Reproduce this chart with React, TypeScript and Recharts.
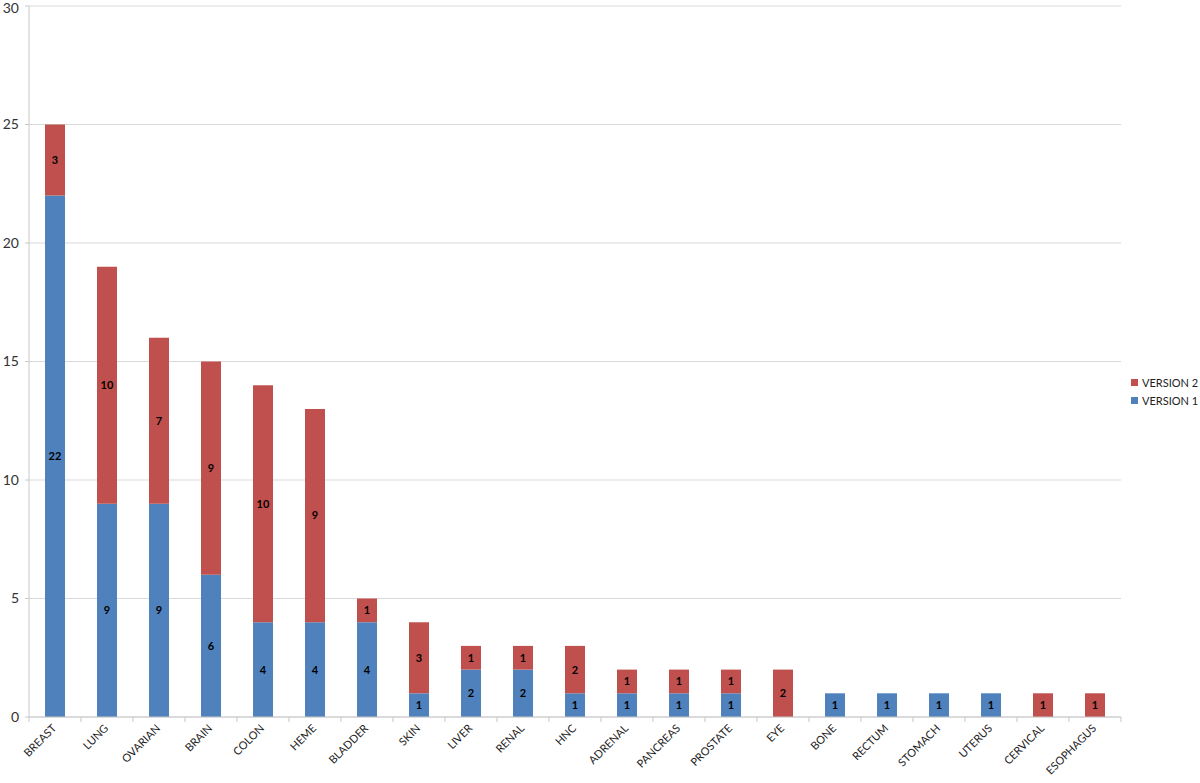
import { BarChart, Bar, XAxis, YAxis, CartesianGrid, Legend, LabelList } from "recharts";

const categories = [
  "BREAST", "LUNG", "OVARIAN", "BRAIN", "COLON", "HEME", "BLADDER", "SKIN", "LIVER", "RENAL", "HNC",
  "ADRENAL", "PANCREAS", "PROSTATE", "EYE", "BONE", "RECTUM", "STOMACH", "UTERUS", "CERVICAL", "ESOPHAGUS",
];
const version1 = [22, 9, 9, 6, 4, 4, 4, 1, 2, 2, 1, 1, 1, 1, 0, 1, 1, 1, 1, 0, 0];
const version2 = [3, 10, 7, 9, 10, 9, 1, 3, 1, 1, 2, 1, 1, 1, 2, 0, 0, 0, 0, 1, 1];
const yTicks = [0, 5, 10, 15, 20, 25, 30];

const data = categories.map((name, i) => ({ name, v1: version1[i], v2: version2[i] }));

const FONT = "Lato, 'Open Sans', sans-serif";
const HALF_BAND = 26;

const XTick = (props: any) => {
  const { x, y, payload, index } = props;
  const axisY = y - 8;
  return (
    <g>
      <line x1={x - HALF_BAND} x2={x - HALF_BAND} y1={axisY} y2={axisY + 5} stroke="#c8c8c8" />
      {index === categories.length - 1 && (
        <line x1={x + HALF_BAND} x2={x + HALF_BAND} y1={axisY} y2={axisY + 5} stroke="#c8c8c8" />
      )}
      <text
        x={x + 2}
        y={y + 4}
        textAnchor="end"
        fontSize={11}
        fill="#222"
        fontFamily={FONT}
        transform={`rotate(-45, ${x + 2}, ${y + 4})`}
      >
        {payload.value}
      </text>
    </g>
  );
};

// legend lists VERSION 2 above VERSION 1, like the stack order
const LegendBox = (props: any) => {
  const items = [...(props.payload || [])].reverse();
  return (
    <div style={{ fontFamily: FONT, fontSize: 11, color: "#222", paddingLeft: 10, whiteSpace: "nowrap" }}>
      {items.map((it: any) => (
        <div key={it.value} style={{ display: "flex", alignItems: "center", height: 18 }}>
          <span
            style={{ width: 7, height: 7, flexShrink: 0, background: it.color, marginRight: 4, display: "inline-block" }}
          />
          {it.value}
        </div>
      ))}
    </div>
  );
};

const hideZero = (v: any) => (v ? v : "");

export default function App() {
  return (
    <div style={{ position: "absolute", left: 0, top: 0, background: "#fff" }}>
      <BarChart
        width={1200}
        height={783}
        data={data}
        margin={{ top: 6, right: 2, left: 0, bottom: 0 }}
        barSize={20}
      >
        <CartesianGrid vertical={false} stroke="#d9d9d9" />
        <XAxis
          dataKey="name"
          interval={0}
          height={66}
          tickLine={false}
          stroke="#c8c8c8"
          tick={<XTick />}
        />
        <YAxis
          width={29}
          domain={[0, 30]}
          ticks={yTicks}
          stroke="#c8c8c8"
          tickSize={4}
          tickMargin={6}
          tick={{ fontSize: 14, fill: "#333", fontFamily: FONT }}
        />
        <Legend
          layout="vertical"
          align="right"
          verticalAlign="middle"
          width={77}
          wrapperStyle={{ overflow: "visible" }}
          content={<LegendBox />}
        />
        <Bar dataKey="v1" name="VERSION 1" stackId="a" fill="#4f81bd" isAnimationActive={false}>
          <LabelList dataKey="v1" position="center" formatter={hideZero} fontSize={11} fontWeight="bold" fill="#000" fontFamily={FONT} />
        </Bar>
        <Bar dataKey="v2" name="VERSION 2" stackId="a" fill="#c0504d" isAnimationActive={false}>
          <LabelList dataKey="v2" position="center" formatter={hideZero} fontSize={11} fontWeight="bold" fill="#000" fontFamily={FONT} />
        </Bar>
      </BarChart>
    </div>
  );
}
